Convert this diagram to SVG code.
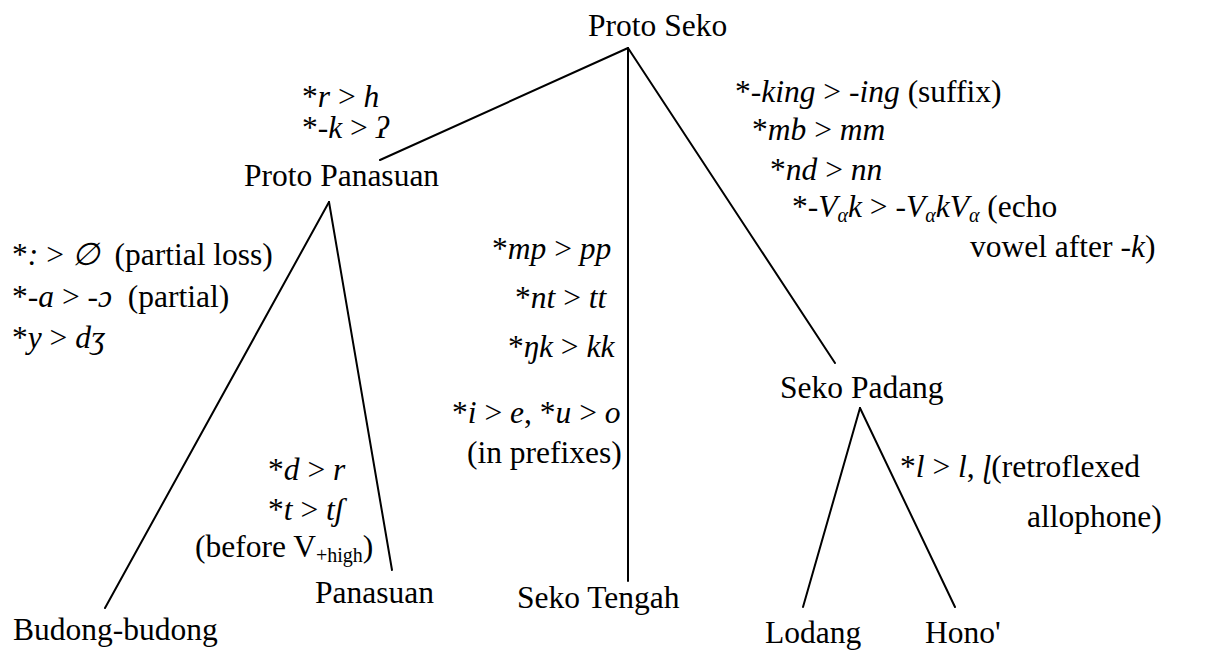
<svg xmlns="http://www.w3.org/2000/svg" width="1217" height="650" viewBox="0 0 1217 650">
  <style>
    text { font-family: "Liberation Serif", "DejaVu Serif", serif; font-size: 31.5px; fill: #000; }
    .i { font-style: italic; }
    .sub { font-size: 20px; }
    .edge { stroke: #000; stroke-width: 2; fill: none; stroke-linecap: round; }
  </style>
  <rect width="1217" height="650" fill="#fff"/>

  <!-- tree branches -->
  <g id="connectors">
    <line class="edge" x1="628" y1="48" x2="380" y2="160"/>
    <line class="edge" x1="628" y1="48" x2="628" y2="581"/>
    <line class="edge" x1="628" y1="48" x2="835" y2="363"/>
    <line class="edge" x1="329" y1="202" x2="105" y2="608"/>
    <line class="edge" x1="329" y1="202" x2="392" y2="570"/>
    <line class="edge" x1="860" y1="408" x2="803" y2="607"/>
    <line class="edge" x1="860" y1="408" x2="955" y2="607"/>
  </g>

  <!-- language nodes -->
  <g id="proto-seko"><text x="588" y="36">Proto Seko</text></g>
  <g id="proto-panasuan"><text x="244" y="186">Proto Panasuan</text></g>
  <g id="seko-padang"><text x="780" y="398">Seko Padang</text></g>
  <g id="seko-tengah"><text x="517" y="608">Seko Tengah</text></g>
  <g id="panasuan"><text x="315" y="603">Panasuan</text></g>
  <g id="budong-budong"><text x="13" y="640">Budong-budong</text></g>
  <g id="lodang"><text x="765" y="643">Lodang</text></g>
  <g id="hono"><text x="925" y="643">Hono'</text></g>

  <!-- sound changes: Proto Seko to Proto Panasuan -->
  <g id="changes-proto-panasuan">
    <text x="302" y="107">*<tspan class="i">r</tspan> &gt; <tspan class="i">h</tspan></text>
    <text x="302" y="138">*<tspan class="i">-k</tspan> &gt; <tspan class="i">ʔ</tspan></text>
  </g>

  <!-- sound changes: Proto Panasuan to Budong-budong -->
  <g id="changes-budong">
    <text x="12" y="265">*<tspan class="i">:</tspan> &gt; <tspan class="i">∅</tspan>&#160; (partial loss)</text>
    <text x="12" y="307">*<tspan class="i">-a</tspan> &gt; <tspan class="i">-ɔ</tspan>&#160; (partial)</text>
    <text x="12" y="348">*<tspan class="i">y</tspan> &gt; <tspan class="i">dʒ</tspan></text>
  </g>

  <!-- sound changes: Proto Panasuan to Panasuan -->
  <g id="changes-panasuan">
    <text x="268" y="480">*<tspan class="i">d</tspan> &gt; <tspan class="i">r</tspan></text>
    <text x="268" y="520">*<tspan class="i">t</tspan> &gt; <tspan class="i">tʃ</tspan></text>
    <text x="195" y="557">(before V<tspan class="sub" dy="5">+high</tspan><tspan dy="-5">)</tspan></text>
  </g>

  <!-- sound changes: Proto Seko to Seko Tengah -->
  <g id="changes-seko-tengah">
    <text x="492" y="259">*<tspan class="i">mp</tspan> &gt; <tspan class="i">pp</tspan></text>
    <text x="515" y="308">*<tspan class="i">nt</tspan> &gt; <tspan class="i">tt</tspan></text>
    <text x="508" y="357">*<tspan class="i">ŋk</tspan> &gt; <tspan class="i">kk</tspan></text>
    <text x="452" y="423">*<tspan class="i">i</tspan> &gt; <tspan class="i">e</tspan>, *<tspan class="i">u</tspan> &gt; <tspan class="i">o</tspan></text>
    <text x="467" y="463">(in prefixes)</text>
  </g>

  <!-- sound changes: Proto Seko to Seko Padang -->
  <g id="changes-seko-padang">
    <text x="735" y="102">*<tspan class="i">-king</tspan> &gt; <tspan class="i">-ing</tspan> (suffix)</text>
    <text x="752" y="140">*<tspan class="i">mb</tspan> &gt; <tspan class="i">mm</tspan></text>
    <text x="770" y="180">*<tspan class="i">nd</tspan> &gt; <tspan class="i">nn</tspan></text>
    <text x="792" y="217">*<tspan class="i">-V</tspan><tspan class="i sub" dy="5">α</tspan><tspan class="i" dy="-5">k</tspan> &gt; <tspan class="i">-V</tspan><tspan class="i sub" dy="5">α</tspan><tspan class="i" dy="-5">kV</tspan><tspan class="i sub" dy="5">α</tspan><tspan dy="-5"> (echo</tspan></text>
    <text x="970" y="257">vowel after -<tspan class="i">k</tspan>)</text>
  </g>

  <!-- sound changes: Seko Padang to Hono' -->
  <g id="changes-hono">
    <text x="900" y="477">*<tspan class="i">l</tspan> &gt; <tspan class="i">l</tspan>, <tspan class="i">ɭ</tspan>(retroflexed</text>
    <text x="1027" y="527">allophone)</text>
  </g>
</svg>
